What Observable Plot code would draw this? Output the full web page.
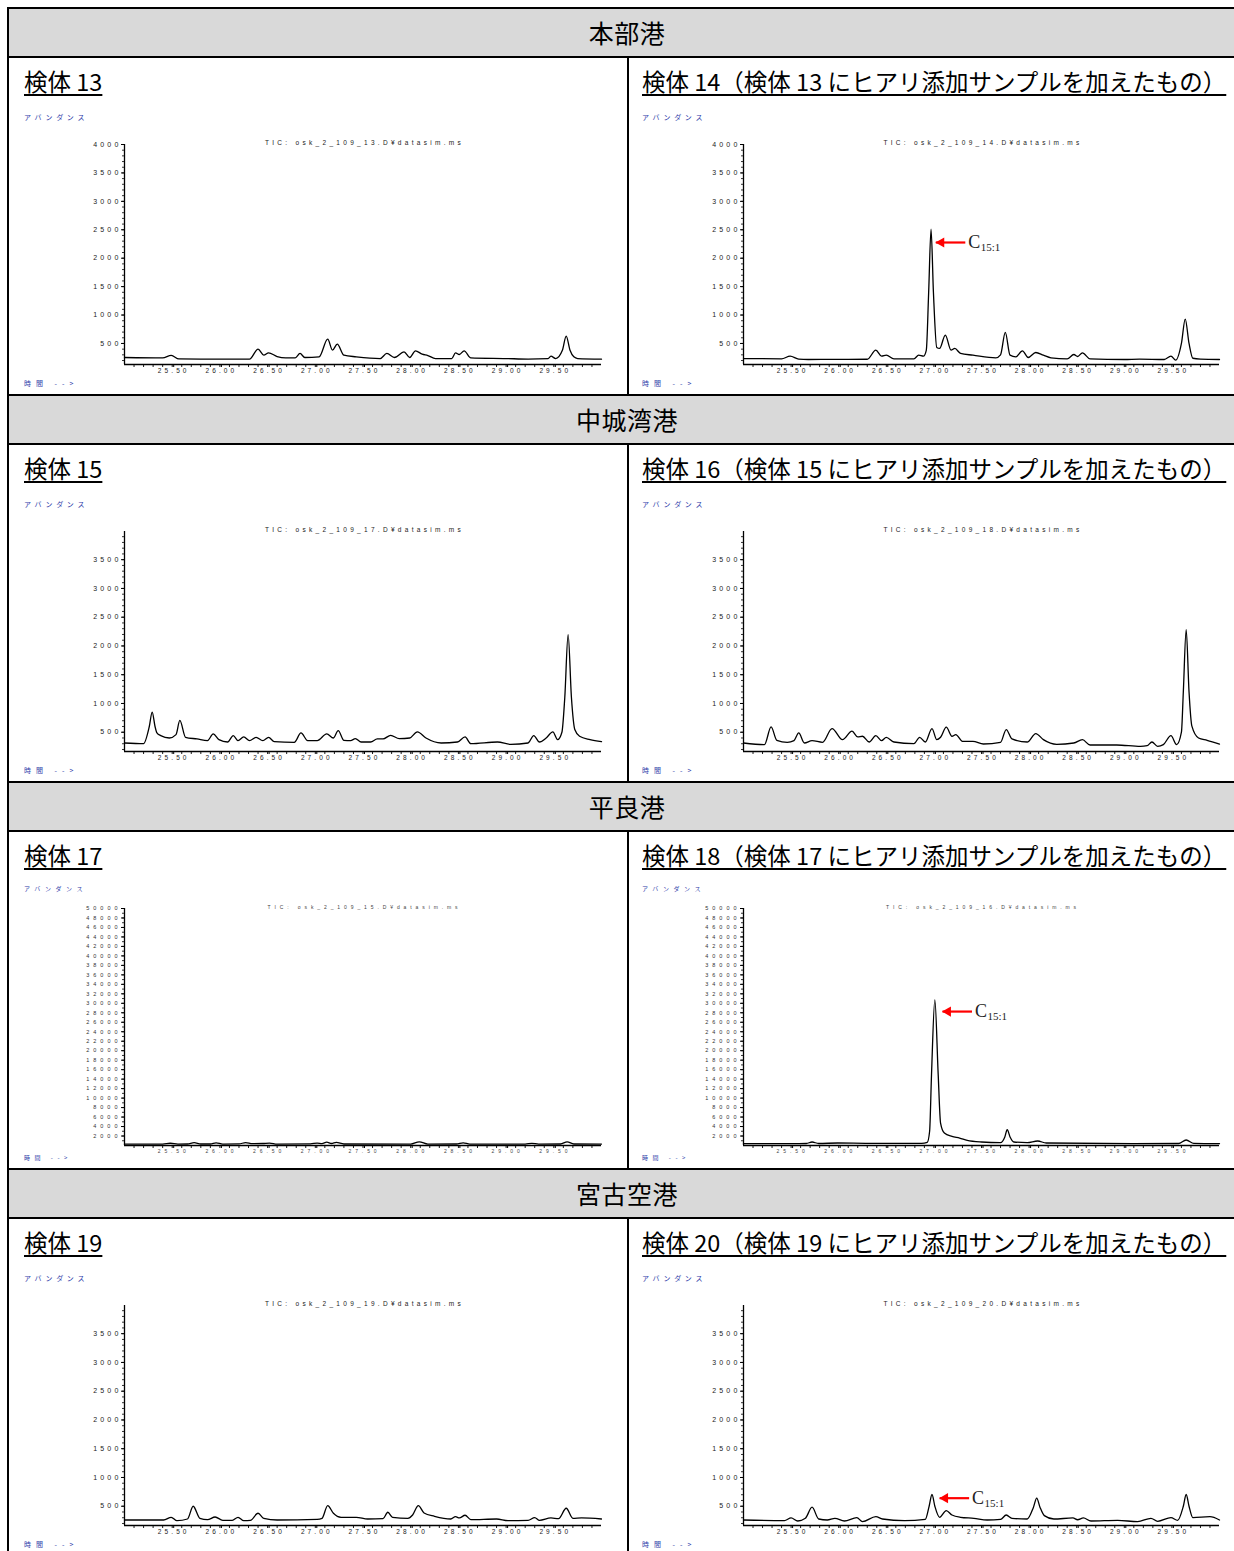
<!DOCTYPE html>
<html><head><meta charset="utf-8">
<script src="https://cdn.jsdelivr.net/npm/d3@7"></script>
<script src="https://cdn.jsdelivr.net/npm/@observablehq/plot@0.6"></script>
<style>
html,body{margin:0;padding:0;width:1234px;height:1551px;overflow:hidden;background:#fff}
#page{position:relative;width:1234px;height:1551px;overflow:hidden}
.hdr{position:absolute;left:8px;width:1238px;height:49px;background:#d9d9d9;font-family:"Noto Sans CJK JP",sans-serif;font-size:25px;letter-spacing:0.5px;line-height:49px;text-align:center;color:#000}
.hl{position:absolute;height:2px;background:#000}
.vl{position:absolute;width:2px;background:#000}
.ttl{position:absolute;font-family:"Noto Sans CJK JP",sans-serif;font-size:23.5px;line-height:24px;white-space:nowrap;text-decoration:underline;text-decoration-thickness:1.5px;text-underline-offset:3px;color:#000}
.small{position:absolute;font-family:"Noto Sans CJK JP",sans-serif;font-size:7px;line-height:8px;letter-spacing:3.7px;color:#2c3aa8;white-space:nowrap}
.small.t{letter-spacing:5px}
.small.tiny{font-size:6px;letter-spacing:4.5px}
.plotbox{position:absolute}
.chrom text{fill:#222}
.chrom g[aria-label="y-axis tick label"] text{letter-spacing:3.2px;font-size:7px}
.chrom g[aria-label="x-axis tick label"] text{letter-spacing:3.1px}
.chrom text.tic{letter-spacing:3.3px;font-size:6.5px}
.chrom.big g[aria-label="y-axis tick label"] text{font-size:5.5px;letter-spacing:4px;fill:#333}
.chrom.big g[aria-label="x-axis tick label"] text{font-size:5px;letter-spacing:3.9px;fill:#444}
.chrom.big text.tic{font-size:5px;letter-spacing:3.9px;fill:#444}
</style>
</head><body>
<div id="page"></div>
<script>
// ---------- text ----------
const headers = ["本部港", "中城湾港", "平良港", "宮古空港"];
const titles = [
  "検体 13", "検体 14（検体 13 にヒアリ添加サンプルを加えたもの）",
  "検体 15", "検体 16（検体 15 にヒアリ添加サンプルを加えたもの）",
  "検体 17", "検体 18（検体 17 にヒアリ添加サンプルを加えたもの）",
  "検体 19", "検体 20（検体 19 にヒアリ添加サンプルを加えたもの）"
];
const ticLabels = [
  "TIC: osk_2_109_13.D¥datasim.ms", "TIC: osk_2_109_14.D¥datasim.ms",
  "TIC: osk_2_109_17.D¥datasim.ms", "TIC: osk_2_109_18.D¥datasim.ms",
  "TIC: osk_2_109_15.D¥datasim.ms", "TIC: osk_2_109_16.D¥datasim.ms",
  "TIC: osk_2_109_19.D¥datasim.ms", "TIC: osk_2_109_20.D¥datasim.ms"
];
const yLabelText = "アバンダンス";
const xLabelText = "時間 -->";

// ---------- axis ticks ----------
const xTickLabels = [25.5, 26.0, 26.5, 27.0, 27.5, 28.0, 28.5, 29.0, 29.5];
const yTicks4000 = [500, 1000, 1500, 2000, 2500, 3000, 3500, 4000];
const yTicks3500 = [500, 1000, 1500, 2000, 2500, 3000, 3500];
const yTicks50000 = [2000, 4000, 6000, 8000, 10000, 12000, 14000, 16000, 18000, 20000, 22000, 24000, 26000, 28000, 30000, 32000, 34000, 36000, 38000, 40000, 42000, 44000, 46000, 48000, 50000];

// ---------- chromatogram traces (time [min], abundance) ----------
const t13 = [25.00, 25.40, 25.49, 25.57, 25.80, 26.31, 26.40, 26.46, 26.51, 26.60, 26.69, 26.79, 26.84, 26.89, 27.04, 27.13, 27.18, 27.23, 27.30, 27.43, 27.68, 27.75, 27.83, 27.93, 27.99, 28.05, 28.12, 28.18, 28.26, 28.43, 28.47, 28.51, 28.56, 28.63, 29.00, 29.23, 29.44, 29.47, 29.52, 29.59, 29.63, 29.67, 29.71, 29.75, 30.00];
const a13 = [253, 245, 290, 228, 225, 224, 400, 294, 335, 270, 247, 247, 324, 253, 265, 576, 382, 488, 294, 265, 235, 324, 253, 353, 253, 371, 312, 288, 235, 235, 335, 306, 371, 247, 235, 226, 232, 276, 235, 380, 630, 380, 265, 235, 224];

const t14 = [25.00, 25.40, 25.49, 25.58, 25.68, 26.00, 26.30, 26.39, 26.45, 26.50, 26.58, 26.79, 26.84, 26.89, 26.92, 26.945, 26.97, 26.995, 27.03, 27.06, 27.12, 27.18, 27.22, 27.28, 27.41, 27.65, 27.70, 27.75, 27.80, 27.86, 27.93, 27.99, 28.07, 28.15, 28.23, 28.40, 28.47, 28.51, 28.56, 28.64, 29.00, 29.16, 29.42, 29.49, 29.54, 29.60, 29.64, 29.68, 29.72, 29.80, 30.00];
const a14 = [235, 230, 276, 225, 218, 220, 222, 382, 276, 294, 229, 229, 294, 276, 380, 1400, 2511, 1400, 430, 412, 647, 382, 412, 324, 294, 247, 300, 694, 294, 265, 371, 253, 341, 294, 247, 229, 306, 271, 335, 229, 218, 225, 218, 276, 206, 500, 929, 500, 240, 225, 218];

const t15 = [25.00, 25.20, 25.26, 25.29, 25.32, 25.34, 25.38, 25.47, 25.54, 25.58, 25.64, 25.76, 25.87, 25.93, 25.99, 26.08, 26.14, 26.19, 26.25, 26.31, 26.38, 26.45, 26.51, 26.57, 26.78, 26.85, 26.92, 27.02, 27.12, 27.19, 27.24, 27.30, 27.37, 27.42, 27.48, 27.58, 27.65, 27.71, 27.79, 27.88, 27.99, 28.07, 28.16, 28.32, 28.49, 28.57, 28.63, 28.91, 29.05, 29.23, 29.29, 29.35, 29.42, 29.49, 29.54, 29.585, 29.615, 29.65, 29.685, 29.72, 29.77, 29.88, 30.00];
const a15 = [313, 301, 600, 851, 600, 488, 441, 400, 459, 705, 412, 383, 354, 471, 371, 330, 441, 354, 418, 354, 412, 354, 412, 336, 325, 488, 354, 354, 471, 400, 529, 360, 354, 389, 330, 330, 383, 383, 447, 389, 400, 506, 400, 313, 330, 418, 301, 330, 289, 313, 441, 330, 400, 506, 371, 500, 1100, 2197, 1100, 547, 430, 371, 336];

const t16 = [25.00, 25.22, 25.29, 25.35, 25.46, 25.53, 25.58, 25.64, 25.72, 25.83, 25.93, 26.04, 26.14, 26.20, 26.25, 26.32, 26.39, 26.45, 26.50, 26.58, 26.79, 26.85, 26.91, 26.98, 27.03, 27.07, 27.13, 27.19, 27.23, 27.30, 27.41, 27.52, 27.70, 27.76, 27.82, 27.98, 28.07, 28.15, 28.29, 28.47, 28.56, 28.64, 28.92, 29.17, 29.24, 29.29, 29.35, 29.41, 29.49, 29.55, 29.60, 29.62, 29.65, 29.68, 29.71, 29.78, 29.87, 30.00];
const a16 = [313, 284, 594, 360, 325, 354, 488, 313, 354, 325, 564, 371, 518, 418, 430, 330, 441, 354, 412, 330, 301, 412, 330, 564, 371, 412, 588, 430, 459, 342, 342, 295, 325, 547, 383, 330, 477, 371, 289, 313, 371, 278, 278, 254, 266, 330, 254, 284, 441, 284, 500, 1200, 2284, 1200, 605, 400, 360, 295];

const t17 = [25.00, 25.40, 25.48, 25.56, 25.66, 25.73, 25.80, 25.90, 25.96, 26.03, 26.20, 26.27, 26.34, 26.45, 26.52, 26.60, 26.95, 27.02, 27.07, 27.12, 27.17, 27.22, 27.30, 28.00, 28.09, 28.18, 28.48, 28.55, 28.62, 29.20, 29.27, 29.34, 29.57, 29.64, 29.71, 30.00];
const a17 = [300, 300, 480, 300, 320, 600, 320, 320, 550, 300, 330, 620, 380, 420, 520, 300, 330, 520, 400, 720, 420, 650, 320, 300, 780, 300, 320, 560, 300, 300, 450, 300, 320, 780, 320, 300];

const t18 = [25.00, 25.52, 25.66, 25.72, 25.79, 25.99, 26.31, 26.87, 26.93, 26.955, 26.975, 27.01, 27.045, 27.07, 27.11, 27.19, 27.27, 27.35, 27.50, 27.70, 27.745, 27.77, 27.80, 27.84, 27.98, 28.09, 28.18, 29.09, 29.57, 29.65, 29.73, 30.00];
const a18 = [386, 400, 420, 737, 420, 527, 456, 450, 667, 3000, 15000, 30712, 15000, 4739, 2633, 1930, 1580, 1088, 737, 597, 1800, 3335, 1800, 737, 597, 948, 527, 386, 420, 1158, 456, 386];

const t19 = [25.00, 25.41, 25.49, 25.55, 25.66, 25.72, 25.79, 25.87, 25.95, 26.03, 26.13, 26.19, 26.25, 26.32, 26.40, 26.46, 26.60, 27.02, 27.07, 27.13, 27.19, 27.27, 27.43, 27.55, 27.71, 27.76, 27.81, 27.97, 28.02, 28.08, 28.14, 28.25, 28.42, 28.47, 28.51, 28.57, 28.63, 28.90, 29.02, 29.23, 29.30, 29.35, 29.47, 29.55, 29.63, 29.70, 29.79, 30.00];
const a19 = [261, 261, 308, 249, 278, 500, 290, 267, 313, 255, 255, 308, 249, 255, 378, 290, 261, 273, 290, 512, 378, 308, 308, 278, 285, 395, 308, 290, 348, 512, 383, 325, 278, 319, 296, 343, 267, 278, 249, 255, 302, 255, 296, 285, 465, 290, 296, 278];

const t20 = [25.00, 25.43, 25.50, 25.57, 25.65, 25.72, 25.79, 25.88, 25.96, 26.06, 26.19, 26.25, 26.39, 26.46, 26.69, 26.91, 26.95, 26.98, 27.01, 27.06, 27.13, 27.19, 27.28, 27.42, 27.56, 27.70, 27.76, 27.82, 27.98, 28.045, 28.08, 28.115, 28.16, 28.26, 28.46, 28.51, 28.57, 28.65, 28.93, 29.14, 29.28, 29.35, 29.49, 29.56, 29.62, 29.65, 29.68, 29.72, 29.90, 30.00];
const a20 = [261, 250, 296, 243, 290, 483, 278, 261, 290, 243, 302, 232, 319, 278, 249, 273, 500, 704, 500, 308, 424, 348, 308, 290, 261, 270, 348, 290, 278, 480, 640, 480, 337, 278, 296, 265, 296, 243, 255, 232, 290, 238, 302, 255, 500, 704, 500, 302, 319, 261];

// ---------- C15:1 annotations ----------
const annoPanel = [1, 5, 7];           // panel index (検体14, 18, 20)
const annoHead = [27.02, 27.09, 27.06];
const annoTail = [27.33, 27.40, 27.37];
const annoY = [2276, 28256, 640];

// y-domains per row
const yDomains = [[130, 4000], [165, 3990], [0, 50000], [165, 3990]];
const yTickSets = [yTicks4000, yTicks3500, yTicks50000, yTicks3500];

const traces = [[t13, a13], [t14, a14], [t15, a15], [t16, a16], [t17, a17], [t18, a18], [t19, a19], [t20, a20]];

// ---------- layout ----------
const page = document.getElementById("page");
function el(cls, css, text) {
  const d = document.createElement("div");
  d.className = cls;
  Object.assign(d.style, css);
  if (text != null) d.textContent = text;
  page.appendChild(d);
  return d;
}

const ROW = 387, HDR = 49;
const xMinor = d3.range(251, 300).map(d => d / 10);

for (let r = 0; r < 4; r++) {
  const top = 8 + r * ROW;
  const P = top + HDR;
  el("hdr", {top: top + "px"}, headers[r]);
  for (let c = 0; c < 2; c++) {
    const i = r * 2 + c;
    const L = c === 0 ? 8 : 628;
    const off = c === 0 ? 16 : 14;
    const big = r === 2;
    el("ttl", {left: (L + off) + "px", top: (P + 12) + "px"}, titles[i]);
    el("small" + (big ? " tiny" : ""), {left: (L + off) + "px", top: (P + (big ? 54 : 56)) + "px"}, yLabelText);
    el("small t" + (big ? " tiny" : ""), {left: (L + off) + "px", top: (P + (big ? 323 : 322)) + "px"}, xLabelText);

    const [tt, aa] = traces[i];
    const data = tt.map((t, k) => ({t, a: aa[k]}));
    const yDom = yDomains[r];
    const yT = yTickSets[r];
    const yMinor = big ? d3.range(1000, 50000, 1000) : d3.range(200, yDom[1], 100);
    const mL = c === 0 ? 116 : 115;
    const mR = c === 0 ? 17 : 19;
    const marks = [
      Plot.axisY(yMinor, {tickSize: 2, tickFormat: () => "", strokeWidth: 0.8}),
      Plot.axisY(yT, {tickSize: 3, tickPadding: 0, tickFormat: d => String(d)}),
      Plot.axisX(xMinor, {tickSize: 3, tickFormat: () => "", strokeWidth: 0.9}),
      Plot.axisX(xTickLabels, {tickSize: 3, tickPadding: 1, tickFormat: d => d.toFixed(2), dx: 1.5}),
      Plot.ruleX([25], {strokeWidth: 1.3}),
      Plot.ruleY([yDom[0]], {strokeWidth: 1.6}),
      Plot.line(data, {x: "t", y: "a", curve: "monotone-x", stroke: "#000", strokeWidth: 1.3}),
      Plot.text([ticLabels[i]], {frameAnchor: "top", dy: big ? -3 : -4, dx: 1.5})
    ];
    const ai = annoPanel.indexOf(i);
    if (ai >= 0) {
      const an = [{head: annoHead[ai], tail: annoTail[ai], y: annoY[ai]}];
      marks.push(
        Plot.link(an, {x1: "tail", x2: "head", y1: "y", y2: "y", stroke: "#ff0000", strokeWidth: 2.2}),
        Plot.dot(an, {x: "head", y: "y", symbol: "triangle", rotate: -90, r: 3.8, fill: "#ff0000", stroke: null, dx: 5.5}),
        Plot.text(an, {x: "tail", y: "y", text: () => "C", fontFamily: "'Liberation Serif', serif", fontSize: 18, textAnchor: "start", dx: 3, fill: "#000"}),
        Plot.text(an, {x: "tail", y: "y", text: () => "15:1", fontFamily: "'Liberation Serif', serif", fontSize: 11, textAnchor: "start", dx: 15.5, dy: 5, fill: "#000"})
      );
    }
    const svg = Plot.plot({
      width: 610, height: 290,
      marginLeft: mL, marginRight: mR,
      marginTop: big ? 17 : 27, marginBottom: big ? 36 : 43,
      className: "chrom",
      x: {domain: [25, 30], label: null},
      y: {domain: yDom, label: null},
      style: {background: "transparent", overflow: "visible", fontFamily: "'Liberation Sans', Arial, sans-serif", fontSize: "6.5px", color: "#000"},
      marks
    });
    if (big) svg.classList.add("big");
    svg.querySelectorAll("text").forEach(t => { if (t.textContent.startsWith("TIC")) t.classList.add("tic"); });
    const box = el("plotbox", {left: L + "px", top: (P + 60) + "px", width: "610px", height: "290px"});
    box.appendChild(svg);
  }
  // borders
  el("hl", {left: "7px", top: (top - 1) + "px", width: "1240px"});
  el("hl", {left: "7px", top: (P - 1) + "px", width: "1240px"});
  el("vl", {left: "7px", top: (top - 1) + "px", height: (ROW + 2) + "px"});
  el("vl", {left: "627px", top: (P - 1) + "px", height: (ROW - HDR + 2) + "px"});
}
</script>
</body></html>
